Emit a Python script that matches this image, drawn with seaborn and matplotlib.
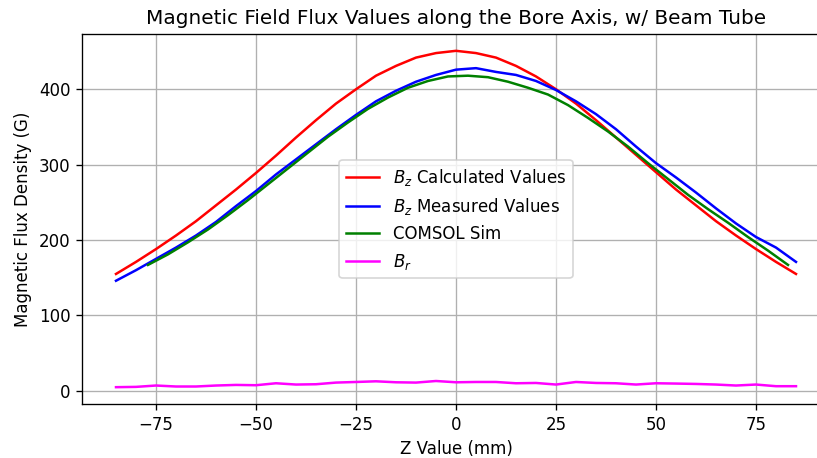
import matplotlib
matplotlib.use("Agg")
import matplotlib.pyplot as plt
import seaborn as sns
import pandas as pd

# Z positions (mm)
z_calc = [-85, -80, -75, -70, -65, -60, -55, -50, -45, -40, -35, -30, -25, -20, -15, -10, -5,
          0, 5, 10, 15, 20, 25, 30, 35, 40, 45, 50, 55, 60, 65, 70, 75, 80, 85]
bz_calc = [155, 171, 188, 206, 225, 246, 267, 289, 312, 336, 359, 381, 400, 418, 431, 442, 448,
           451, 448, 442, 431, 417, 400, 381, 359, 336, 313, 290, 267, 246, 225, 206, 188, 171, 155]

z_meas = z_calc
bz_meas = [146, 160, 175, 190, 206, 224, 245, 265, 287, 307, 327, 347, 366, 384, 398, 410, 419,
           426, 428, 423, 419, 411, 399, 384, 367, 347, 324, 302, 283, 263, 242, 222, 204, 190, 171]

z_sim = [-77, -72, -67, -62, -57, -52, -47, -42, -37, -32, -27, -22, -17, -12, -7, -2,
         3, 8, 13, 18, 23, 28, 33, 38, 43, 48, 53, 58, 63, 68, 73, 78, 83]
b_sim = [167, 181, 197, 214, 233, 253, 274, 295, 316, 337, 356, 374, 389, 402, 411, 417,
         418, 416, 410, 402, 393, 379, 362, 344, 324, 302, 281, 260, 241, 223, 204, 186, 167]

z_br = z_calc
br = [4.8, 5.2, 7.0, 5.7, 5.7, 7.0, 7.8, 7.4, 10.0, 8.3, 8.7, 10.9, 11.7, 12.6, 11.3, 10.9, 13.0,
      11.3, 11.7, 11.7, 10.0, 10.4, 8.3, 11.7, 10.4, 10.0, 8.3, 10.0, 9.6, 9.1, 8.3, 7.0, 8.3, 6.1, 6.1]

fig = plt.figure(figsize=(817 / 120, 458 / 120), dpi=120)
ax = fig.add_axes([82 / 817, 1 - 404 / 458, 748 / 817, (404 - 34) / 458])

sns.lineplot(x=z_calc, y=bz_calc, color="red", label=r"$B_z$ Calculated Values", ax=ax)
sns.lineplot(x=z_meas, y=bz_meas, color="blue", label=r"$B_z$ Measured Values", ax=ax)
sns.lineplot(x=z_sim, y=b_sim, color="green", label="COMSOL Sim", ax=ax)
sns.lineplot(x=z_br, y=br, color="magenta", label=r"$B_r$", ax=ax)

ax.set_xlim(-93.5, 93.5)
ax.set_xticks([-75, -50, -25, 0, 25, 50, 75])
ax.set_yticks([0, 100, 200, 300, 400])
ax.grid(True)
ax.spines["right"].set_visible(False)
ax.set_title("Magnetic Field Flux Values along the Bore Axis, w/ Beam Tube", fontsize=12)
ax.set_xlabel("Z Value (mm)")
ax.set_ylabel("Magnetic Flux Density (G)")
ax.legend(loc="center")

fig.savefig("out.png", dpi=120)
